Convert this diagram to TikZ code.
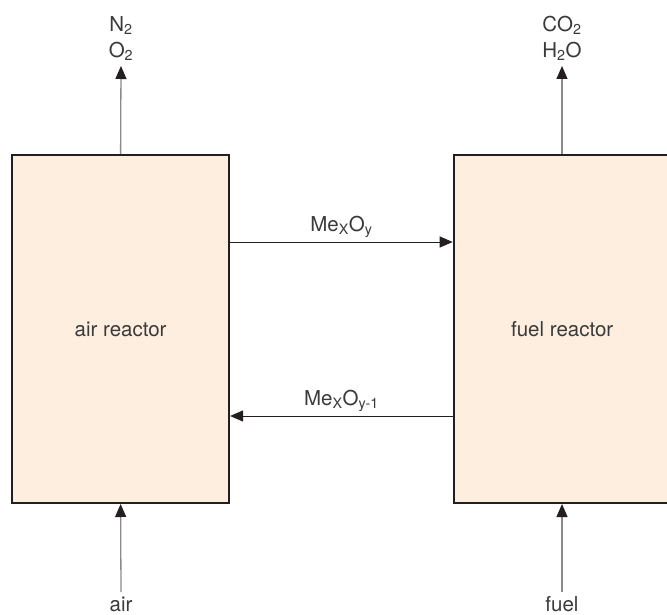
\documentclass[tikz,border=0pt]{standalone}
\usepackage{fontspec}
\setmainfont{TeX Gyre Heros}
\usetikzlibrary{arrows.meta}
\definecolor{boxfill}{HTML}{FDEEE0}
\definecolor{boxdraw}{HTML}{231F20}
\definecolor{txt}{HTML}{3A3A3A}
\definecolor{feed}{HTML}{8A8A8A}
\tikzset{
  reactor/.style={draw=boxdraw, fill=boxfill, line width=2pt, minimum height=348pt, inner sep=0pt, text=txt, font=\fontsize{20.5}{24}\selectfont},
  lbl/.style={text=txt, font=\fontsize{20.5}{26}\selectfont, align=center, inner sep=0pt},
  feedarrow/.style={draw=feed, line width=1.3pt, -{Triangle[length=13pt,width=11pt,color=boxdraw]}},
  loop/.style={draw=boxdraw, line width=1pt, -{Triangle[length=13pt,width=11pt,color=boxdraw]}},
}
\begin{document}
\begin{tikzpicture}[x=1pt,y=-1pt]
\useasboundingbox (0,0) rectangle (667,615);
\begin{scope}
\clip (0,0) rectangle (667,615);
\node[reactor, minimum width=217pt] (ar) at (120.6,329) {air reactor};
\node[reactor, minimum width=220pt] (fr) at (563.7,329) {\hspace*{-3pt}fuel reactor};
\end{scope}
\node[lbl, anchor=south] (out1) at (121,60.5) {N\textsubscript{2}\\O\textsubscript{2}};
\node[lbl, anchor=south] (out2) at (562,60.5) {CO\textsubscript{2}\\H\textsubscript{2}O};
\coordinate (t1) at (121,66);
\coordinate (t2) at (562,66);
\draw[feedarrow] (ar.north) -- (t1);
\draw[feedarrow] (t2 |- fr.north) -- (t2);
\node[lbl, anchor=base] (air) at (121,611) {air};
\node[lbl, anchor=base] (fuel) at (562,611) {fuel};
\coordinate (b1) at (121,592);
\coordinate (b2) at (562,592);
\draw[feedarrow] (b1) -- (ar.south);
\draw[feedarrow] (b2) -- (b2 |- fr.south);
\draw[loop] (ar.east |- 0,242) -- node[lbl, midway, anchor=base, yshift=11pt] (m1) {Me\textsubscript{X}O\textsubscript{y}} (fr.west |- 0,242);
\draw[loop] (fr.west |- 0,416) -- node[lbl, midway, anchor=base, yshift=11pt] (m2) {Me\textsubscript{X}O\textsubscript{y-1}} (ar.east |- 0,416);
\end{tikzpicture}
\end{document}
